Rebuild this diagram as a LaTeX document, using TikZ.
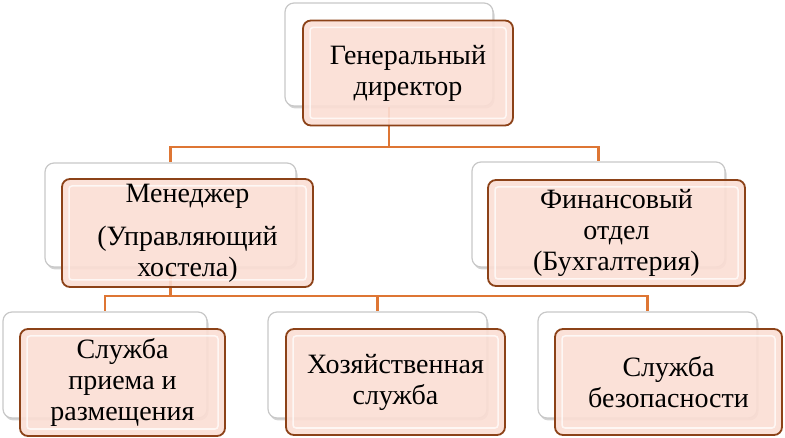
\documentclass[tikz,border=0pt]{standalone}
\usepackage{fontspec}
\setmainfont{Liberation Serif}
\usepackage{tikz}
\usetikzlibrary{positioning,shadows}
\definecolor{CardPeach}{RGB}{251,222,212}
\definecolor{CardEdge}{RGB}{140,66,24}
\definecolor{LinkOrange}{RGB}{222,118,52}
\definecolor{BackEdge}{RGB}{200,200,200}

\begin{document}
\begin{tikzpicture}[
  x=1pt, y=-1pt,
  backcard/.style={
    draw=BackEdge,
    rounded corners=9pt,
    fill=white,
    line width=1.2pt,
    drop shadow={opacity=0.35, shadow xshift=1.5pt, shadow yshift=-2.5pt}
  },
  frontcard/.style={
    draw=CardEdge,
    rounded corners=8pt,
    align=center,
    fill=CardPeach,
    fill opacity=0.9,
    text opacity=1,
    line width=1.8pt,
    inner sep=2pt,
    path picture={
      \draw[white, opacity=0.75, line width=1.5pt, rounded corners=3pt]
        ([shift={(7pt,-7pt)}]path picture bounding box.north west) rectangle
        ([shift={(-7pt,7pt)}]path picture bounding box.south east);
    }
  },
  link/.style={LinkOrange, line width=2.4pt},
  font=\fontsize{28}{31}\selectfont
]
\useasboundingbox (0,0) rectangle (785,438);

% back cards
\node[backcard, minimum width=208pt, minimum height=103pt] (dirB) at (389,54.5) {};
\node[backcard, minimum width=251pt, minimum height=104pt] (mgrB) at (170.5,215) {};
\node[backcard, minimum width=253pt, minimum height=105pt] (finB) at (598.5,214.5) {};
\node[backcard, minimum width=204pt, minimum height=106pt] (recB) at (105,365) {};
\node[backcard, minimum width=219pt, minimum height=106pt] (hhB) at (377.5,365) {};
\node[backcard, minimum width=219pt, minimum height=106pt] (secB) at (647.5,365) {};

% connectors
\coordinate (topbus) at (389,147);
\coordinate (lowbus) at (170.5,296);
\draw[link] (dirB.south) -- (topbus) -| (mgrB.north);
\draw[link] (topbus) -| (finB.north);
\draw[link] (mgrB.south) -- (lowbus) -| (recB.north);
\draw[link] (lowbus) -| (hhB.north);
\draw[link] (lowbus) -| (secB.north);

% front cards
\node[frontcard, minimum width=210pt, minimum height=105pt] (dir) at (408,73)
  {Генеральный\\директор};
\node[frontcard, minimum width=251pt, minimum height=108pt] (mgr) at (187.5,233)
  {Менеджер\\[12pt](Управляющий\\хостела)};
\node[frontcard, minimum width=257pt, minimum height=106pt] (fin) at (616.5,233)
  {Финансовый\\отдел\\(Бухгалтерия)};
\node[frontcard, minimum width=205pt, minimum height=107pt] (rec) at (122.5,382.5)
  {Служба\\приема и\\размещения};
\node[frontcard, minimum width=219pt, minimum height=106pt] (hh) at (395.5,382)
  {Хозяйственная\\служба};
\node[frontcard, minimum width=227pt, minimum height=106pt] (sec) at (668.5,382)
  {Служба\\безопасности};
\end{tikzpicture}
\end{document}
